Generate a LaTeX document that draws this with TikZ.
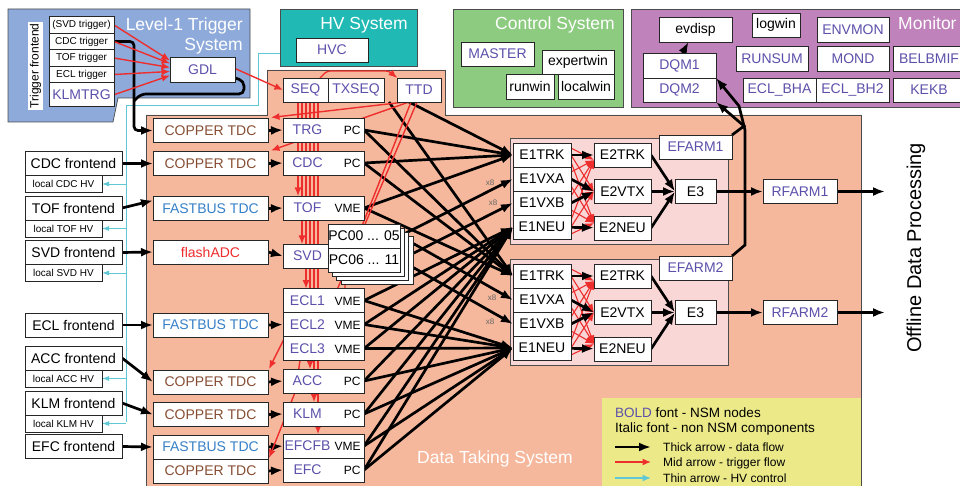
\documentclass[tikz,border=0pt]{standalone}
\usepackage{fontspec}
\setmainfont{Liberation Sans}
\usetikzlibrary{arrows.meta,positioning,backgrounds,calc}

\definecolor{nsm}{RGB}{92,80,170}
\definecolor{trgblue}{RGB}{142,170,218}
\definecolor{hvteal}{RGB}{32,185,180}
\definecolor{ctlgreen}{RGB}{141,203,128}
\definecolor{monpurple}{RGB}{192,130,187}
\definecolor{daqsalmon}{RGB}{246,184,156}
\definecolor{farmpink}{RGB}{250,215,215}
\definecolor{legyellow}{RGB}{236,234,136}
\definecolor{hvcyan}{RGB}{95,200,212}
\definecolor{trgred}{RGB}{238,45,45}
\definecolor{copper}{RGB}{135,78,52}
\definecolor{fastbus}{RGB}{55,128,200}

\newcommand\fsz[1]{\fontsize{#1}{#1}\selectfont}
\newcommand\rolab[2]{\makebox[42pt][c]{\color{nsm}#1}\hfill{\fsz{12}#2}}

\pgfdeclarelayer{edges}
\pgfsetlayers{background,edges,main}

\begin{document}
\begin{tikzpicture}
[x=1pt, y=-1pt,
 modbox/.style={rectangle, draw=black!85, fill=white, line width=0.7pt, inner sep=0pt, outer sep=0pt, font=\fsz{14}},
 nsmbox/.style={modbox, text=nsm},
 wh/.style 2 args={minimum width=#1pt, minimum height=#2pt},
 trgbox/.style={modbox, wh={65}{16.5}, font=\fsz{10}},
 febox/.style={modbox, wh={97}{24}},
 hvbox/.style={modbox, wh={77}{17}, font=\fsz{10}, anchor=north west},
 tdcbox/.style={modbox, wh={115}{24}},
 ro/.style={modbox, minimum height=24pt, text width=74pt, inner xsep=3.5pt},
 panel/.style={draw=black!70, line width=0.7pt},
 title/.style={text=white, inner sep=0pt, font=\fontsize{17.5}{20}\selectfont},
 legtxt/.style={anchor=base west, inner sep=0pt, font=\fsz{13.5}},
 mult/.style={text=black!60, font=\fsz{8}, inner sep=0pt},
 dataflow/.style={-{Latex[length=12pt,width=9pt]}, line width=2.7pt},
 trigflow/.style={-{Latex[length=8.5pt,width=7pt]}, line width=1.4pt, draw=trgred},
 hvflow/.style={-{Latex[length=7pt,width=5pt]}, line width=0.9pt, draw=hvcyan}]
\useasboundingbox (0,0) rectangle (960,486);

% level-1 trigger
\node[rotate=90, fill=white, wh={88}{15}, inner sep=0pt, font=\fsz{12}] (trgfe) at (35.5,66) {Trigger frontend};
\node[trgbox] (svdtrg) at (81.5,25) {(SVD trigger)};
\node[trgbox] (cdctrg) [below=0pt of svdtrg] {CDC trigger};
\node[trgbox] (toftrg) [below=0pt of cdctrg] {TOF trigger};
\node[trgbox] (ecltrg) [below=0pt of toftrg] {ECL trigger};
\node[trgbox, text=nsm, font=\fsz{14}, minimum height=24pt] (klmtrg) [below=0pt of ecltrg] {KLMTRG};
\node[nsmbox, wh={65}{25}] (gdl) at (202.5,69.5) {GDL};
\node[title, anchor=north east, align=right] (trgtitle) at (243,18) {Level-1 Trigger\\System};

% hv, control, monitor
\node[nsmbox, wh={72}{24}] (hvc) at (332,50) {HVC};
\node[title, anchor=base east] (hvtitle) at (408,30) {HV System};
\node[nsmbox, wh={73}{24}] (master) at (497.5,54) {MASTER};
\node[modbox, wh={72}{24}] (expertwin) at (578,62) {expertwin};
\node[modbox, wh={48}{25}] (runwin) at (530,86.5) {runwin};
\node[modbox, wh={56}{25}] (localwin) at (586,86.5) {localwin};
\node[title, anchor=base east] (ctltitle) at (615,30) {Control System};
\node[modbox, wh={73}{25}] (evdisp) at (695.5,29.5) {evdisp};
\node[modbox, wh={48}{24}] (logwin) at (776,25) {logwin};
\node[nsmbox, wh={72}{25}] (envmon) at (853,29.5) {ENVMON};
\node[nsmbox, wh={72}{25}] (runsum) at (772,58.5) {RUNSUM};
\node[nsmbox, wh={72}{25}] (mond) at (853,58.5) {MOND};
\node[nsmbox, wh={72}{25}] (belbmif) at (929,58.5) {BELBMIF};
\node[nsmbox, wh={73}{25}] (dqm1) at (679.5,65.5) {DQM1};
\node[nsmbox, wh={73}{24}] (dqm2) [below=0pt of dqm1] {DQM2};
\node[nsmbox, wh={73}{24}] (eclbha) at (779.5,90) {ECL\_BHA};
\node[nsmbox, wh={73}{24}] (eclbh2) [right=0pt of eclbha] {ECL\_BH2};
\node[nsmbox, wh={72}{24}] (kekb) at (929,90) {KEKB};
\node[title, anchor=base west] (montitle) at (898,30) {Monitor};

% sequencer
\node[nsmbox, wh={45}{24}] (seq) at (305.5,90) {SEQ};
\node[nsmbox, wh={56}{24}] (txseq) [right=0pt of seq] {TXSEQ};
\node[nsmbox, wh={44}{24}] (ttd) at (419,90) {TTD};

% frontends
\node[febox] (cdcfe) at (73.5,163.5) {CDC frontend};
\node[hvbox] (cdchv) at (cdcfe.south west) {local CDC HV};
\node[febox] (toffe) at (73.5,208) {TOF frontend};
\node[hvbox] (tofhv) at (toffe.south west) {local TOF HV};
\node[febox] (svdfe) at (73.5,252.5) {SVD frontend};
\node[hvbox] (svdhv) at (svdfe.south west) {local SVD HV};
\node[febox] (eclfe) at (73.5,325) {ECL frontend};
\node[febox] (accfe) at (73.5,358) {ACC frontend};
\node[hvbox] (acchv) at (accfe.south west) {local ACC HV};
\node[febox] (klmfe) at (73.5,403) {KLM frontend};
\node[hvbox] (klmhv) at (klmfe.south west) {local KLM HV};
\node[febox] (efcfe) at (73.5,446.5) {EFC frontend};

% digitizers
\node[tdcbox, text=copper] (tdctrg) at (210.5,130.5) {COPPER TDC};
\node[tdcbox, text=copper] (tdccdc) at (210.5,163.5) {COPPER TDC};
\node[tdcbox, text=fastbus] (tdctof) at (210.5,208.5) {FASTBUS TDC};
\node[tdcbox, text=trgred] (tdcsvd) at (210.5,252) {flashADC};
\node[tdcbox, text=fastbus] (tdcecl) at (210.5,325) {FASTBUS TDC};
\node[tdcbox, text=copper] (tdcacc) at (210.5,382) {COPPER TDC};
\node[tdcbox, text=copper] (tdcklm) at (210.5,414.5) {COPPER TDC};
\node[tdcbox, text=fastbus] (tdcefcfb) at (210.5,447) {FASTBUS TDC};
\node[tdcbox, text=copper] (tdcefc) [below=0pt of tdcefcfb] {COPPER TDC};

% readout
\node[ro] (rotrg) at (323.5,130) {\rolab{TRG}{PC}};
\node[ro] (rocdc) at (323.5,163) {\rolab{CDC}{PC}};
\node[ro] (rotof) at (323.5,208) {\rolab{TOF}{VME}};
\node[ro] (rosvd) at (323.5,256) {\rolab{SVD}{}};
\node[ro] (roecla) at (323.5,300.5) {\rolab{ECL1}{VME}};
\node[ro] (roeclb) [below=0pt of roecla] {\rolab{ECL2}{VME}};
\node[ro] (roeclc) [below=0pt of roeclb] {\rolab{ECL3}{VME}};
\node[ro] (roacc) at (323.5,381) {\rolab{ACC}{PC}};
\node[ro] (roklm) at (323.5,414) {\rolab{KLM}{PC}};
\node[ro] (roefcfb) at (323.5,446) {\rolab{EFCFB}{VME}};
\node[ro] (roefc) [below=0pt of roefcfb] {\rolab{EFC}{PC}};
\foreach \k in {3,2,1}
  \draw[draw=black!85, fill=white, line width=0.7pt] ($(328,224)+(4.3*\k,4*\k)$) rectangle ++(72,48);
\node[modbox, wh={72}{24}] (pca) at (364,236) {PC00 ... 05};
\node[modbox, wh={72}{24}] (pcb) [below=0pt of pca] {PC06 ... 11};
\node[mult] (mxa1) at (490,183) {x8};
\node[mult] (mxb1) at (493,203) {x8};
\node[mult] (mxa2) at (492,298) {x8};
\node[mult] (mxb2) at (490,322) {x8};

% event farms
\foreach \f/\dy in {1/0, 2/121} {
  \node[modbox, wh={58}{24}] (e1trk\f) at (542,155+\dy) {E1TRK};
  \node[modbox, wh={58}{24}] (e1vxa\f) [below=0pt of e1trk\f] {E1VXA};
  \node[modbox, wh={58}{24}] (e1vxb\f) [below=0pt of e1vxa\f] {E1VXB};
  \node[modbox, wh={58}{24}] (e1neu\f) [below=0pt of e1vxb\f] {E1NEU};
  \node[modbox, wh={57}{24}] (e2trk\f) at (622.5,155+\dy) {E2TRK};
  \node[modbox, wh={57}{24}] (e2vtx\f) at (622.5,191.5+\dy) {E2VTX};
  \node[modbox, wh={57}{24}] (e2neu\f) at (622.5,228+\dy) {E2NEU};
  \node[modbox, wh={41}{24}] (e3\f) at (695.5,191.5+\dy) {E3};
  \node[nsmbox, wh={73}{24}] (efarm\f) at (695.5,147+\dy) {EFARM\f};
  \node[nsmbox, wh={74}{24}] (rfarm\f) at (800,191.5+\dy) {RFARM\f};
  \coordinate (offout\f) at (885,191.5+\dy);
}
\node[title, anchor=base west] (daqtitle) at (417,463) {Data Taking System};
\node[rotate=90, font=\fsz{20}, inner sep=0pt] (offline) at (916,248) {Offline Data Processing};

% legend
\node[legtxt] (leg1) at (615,417) {\textcolor{nsm}{BOLD} font - NSM nodes};
\node[legtxt] (leg2) at (615,432) {Italic font - non NSM components};
\node[legtxt, font=\fsz{12}] (leg3) at (663,451) {Thick arrow - data flow};
\node[legtxt, font=\fsz{12}] (leg4) at (663,466) {Mid arrow - trigger flow};
\node[legtxt, font=\fsz{12}] (leg5) at (663,482) {Thin arrow - HV control};
\coordinate (lga) at (615,447); \coordinate (lgb) at (651,447);
\coordinate (lgc) at (615,462); \coordinate (lgd) at (651,462);
\coordinate (lge) at (615,478); \coordinate (lgf) at (651,478);
\draw[dataflow] (lga) -- (lgb);
\draw[trigflow] (lgc) -- (lgd);
\draw[hvflow, -{Latex[length=8.5pt,width=7pt]}, line width=1.4pt] (lge) -- (lgf);

\begin{pgfonlayer}{background}
  \draw[panel, fill=trgblue] (8,9) -- (250,9) -- (250,98) -- (118,98) -- (113,122) -- (8,122) -- cycle;
  \draw[panel, fill=hvteal] (280,9) rectangle (417,66);
  \draw[panel, fill=ctlgreen] (453,9) rectangle (623,107);
  \draw[panel, fill=monpurple] (631,9) rectangle (975,107);
  \draw[panel, fill=daqsalmon] (146,115) -- (267,115) -- (267,70) -- (445,70) -- (445,115)
    -- (861,115) -- (861,495) -- (146,495) -- cycle;
  \draw[panel, fill=farmpink] (510,138) rectangle (728,244);
  \draw[panel, fill=farmpink] (510,259) rectangle (728,365);
  \fill[legyellow] (602,398) rectangle (861,495);
\end{pgfonlayer}

\begin{pgfonlayer}{edges}
  % hv control
  \coordinate (hvport) at (280,53);
  \coordinate (hvbus) at (126,105);
  \draw[line width=0.9pt, draw=hvcyan] (hvport) -- (258,53) -- (258,105) -- (hvbus) -- (126,422);
  \foreach \h in {cdchv,tofhv,svdhv,acchv,klmhv}
    \draw[hvflow] (hvbus |- \h.east) -- (\h.east);
  % trigger data into copper
  \draw[dataflow, rounded corners=4pt] (cdctrg.east) -| (134,130.5) -- (tdctrg.west);
  \draw[line width=2.7pt, rounded corners=5pt] ($(gdl.south east)+(0,-4)$) -- (244,81) -- (244,94) -- (141,94) -- (134,101);
  % frontends to digitizers to readout
  \draw[dataflow] (cdcfe.east) -- (tdccdc.west);
  \draw[dataflow] (toffe.east) -- ($(tdctof.west)+(0,-8)$);
  \draw[dataflow] (svdfe.east) -- (tdcsvd.west);
  \draw[dataflow] (eclfe.east) -- (tdcecl.west);
  \draw[dataflow] (accfe.east) -- (tdcacc.west);
  \draw[dataflow] (klmfe.east) -- (tdcklm.west);
  \draw[dataflow] (efcfe.east) -- (tdcefcfb.west);
  \foreach \a/\b in {tdctrg/rotrg, tdccdc/rocdc, tdctof/rotof, tdcsvd/rosvd, tdcecl/roeclb,
                     tdcacc/roacc, tdcklm/roklm, tdcefcfb/roefcfb, tdcefc/roefc}
    \draw[dataflow] (\a.east) -- (\b.west);
  % readout to event builder
  \foreach \f in {1,2} {
    \foreach \s in {rotrg,rocdc,rotof}
      \draw[dataflow] (\s.east) -- (e1trk\f.west);
    \draw[dataflow] (pca.east) -- (e1vxa\f.west);
    \draw[dataflow] (pcb.east) -- (e1vxb\f.west);
    \foreach \s in {roecla,roeclb,roeclc,roacc,roklm,roefcfb,roefc}
      \draw[dataflow] (\s.east) -- (e1neu\f.west);
  }
  \draw[dataflow] ($(ttd.south)+(-10,0)$) -- (e1trk1.west);
  \draw[dataflow] ($(ttd.south west)+(-8,0)$) -- (e1trk2.west);
  % trigger flow
  \foreach \t/\o in {svdtrg/-9, cdctrg/-6, toftrg/-2, ecltrg/2, klmtrg/6}
    \draw[trigflow] (\t.east) -- ($(gdl.west)+(0,\o)$);
  \draw[trigflow] ($(gdl.east)+(0,-1)$) -- (seq.west);
  \draw[trigflow, rounded corners=3pt] ($(seq.north east)+(-8,0)$) -- ++(7,-7)
    -- ($(ttd.north west)+(-8,-7)$) -- (ttd.north west);
  \foreach \t [count=\i from 0] in {rotof,rosvd,roecla,roacc,roklm,roefcfb}
    \draw[trigflow, line width=1.1pt] ($(seq.south west)+(15+4*\i,0)$) -- ($(\t.north west)+(15+4*\i,0)$);
  \draw[trigflow] ($(ttd.south)+(-14,0)$) -- ($(tdctrg.north east)+(3,-1)$);
  \draw[trigflow] ($(ttd.south)+(-10,0)$) -- ($(tdccdc.north east)+(3,-1)$);
  \draw[trigflow] ($(ttd.south)+(-2,0)$) -- (337,290) -- (284,339) -- ($(tdcacc.north east)+(1,-1)$);
  \draw[trigflow] ($(ttd.south)+(-8,0)$) -- (362,226) -- (345,282) -- (345,292) -- (300,360)
    -- (296,390) -- ($(tdcefc.north east)+(1,-1)$);
  % event farms
  \foreach \f in {1,2} {
    \foreach \s in {e1trk,e1vxa,e1vxb,e1neu}
      \foreach \t/\o/\p in {e2trk/-7/5, e2vtx/0/0, e2neu/7/-5}
        \draw[trigflow, line width=1.1pt] ($(\s\f.east)+(0,\o)$) -- ($(\t\f.west)+(0,\p)$);
    \draw[dataflow] (e1trk\f) -- (e2trk\f);
    \draw[dataflow] (e1vxa\f.east) -- (e2vtx\f.west);
    \draw[dataflow] (e1vxb\f.east) -- (e2vtx\f.west);
    \draw[dataflow] (e1neu\f) -- (e2neu\f);
    \draw[dataflow] (e2trk\f.east) -- (e3\f.west);
    \draw[dataflow] (e2vtx\f) -- (e3\f);
    \draw[dataflow] (e2neu\f.east) -- (e3\f.west);
    \draw[dataflow] (e3\f) -- (rfarm\f);
    \draw[dataflow] (rfarm\f) -- (offout\f);
  }
  % monitoring
  \draw[dataflow] (efarm1.north east) -- (744,126) -- (dqm2.south east);
  \draw[dataflow] (efarm2.north east) -- (745,245) -- (745,130) -- (739,106) -- (dqm1.south east);
  \draw[dataflow] ($(dqm1.north)+(3,0)$) -- ($(evdisp.south)+(-7,0)$);
\end{pgfonlayer}
\end{tikzpicture}
\end{document}
